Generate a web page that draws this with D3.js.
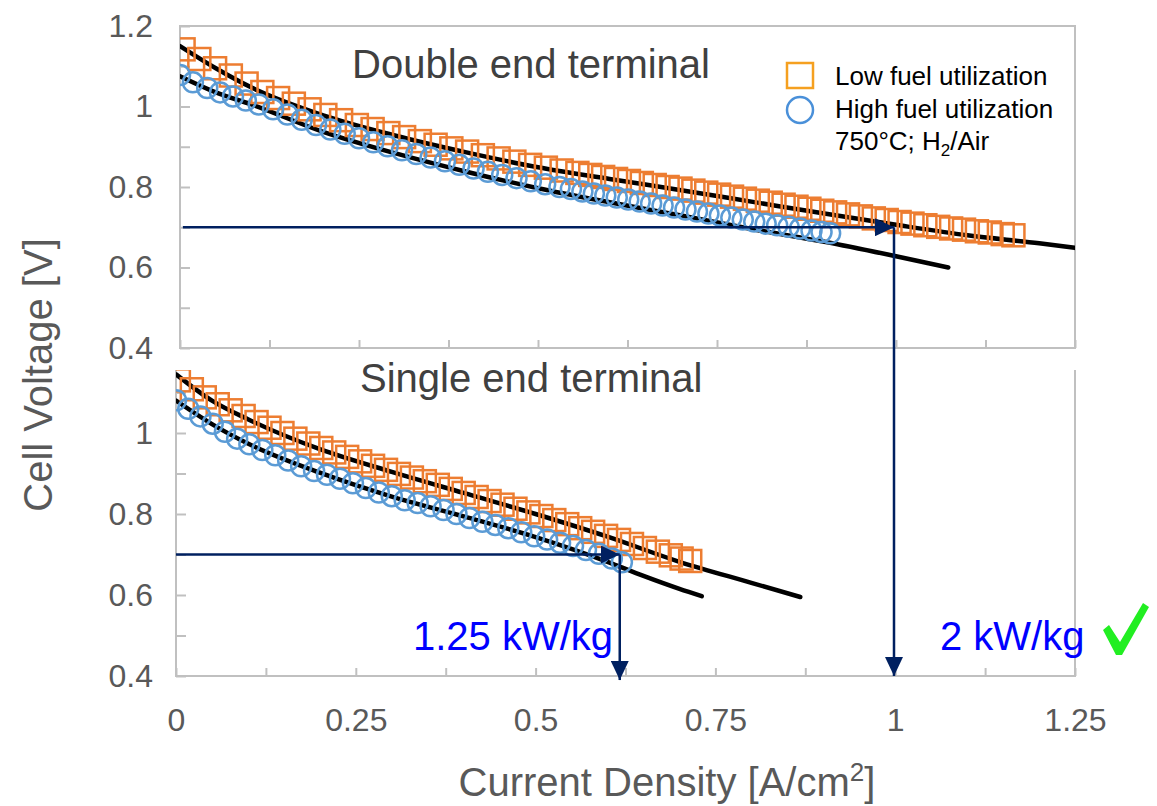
<!DOCTYPE html>
<html>
<head>
<meta charset="utf-8">
<script src="https://cdn.jsdelivr.net/npm/d3@7"></script>
<style>
  body { margin: 0; background: #fff; }
  svg { display: block; font-family: "Liberation Sans", Arial, sans-serif; }
</style>
</head>
<body>
<svg id="chart" width="1157" height="806"></svg>
<script>
// ---- data (current density A/cm2, cell voltage V) ----
const xTicks = [0, 0.25, 0.5, 0.75, 1, 1.25];
const xMinorTicks = [0, 0.125, 0.25, 0.375, 0.5, 0.625, 0.75, 0.875, 1, 1.125, 1.25];
const topYLabels = [0.4, 0.6, 0.8, 1, 1.2];
const topYMinor = [0.4, 0.5, 0.6, 0.7, 0.8, 0.9, 1.0, 1.1, 1.2];
const botYLabels = [0.4, 0.6, 0.8, 1];
const botYMinor = [0.4, 0.5, 0.6, 0.7, 0.8, 0.9, 1.0, 1.1];

// double end terminal
const topLowI = [0.005,0.027,0.049,0.071,0.093,0.115,0.137,0.159,0.181,0.203,0.225,0.247,0.269,0.291,0.313,0.335,0.357,0.379,0.401,0.423,0.445,0.467,0.489,0.511,0.533,0.555,
  0.573,0.591,0.609,0.627,0.645,0.663,0.681,0.699,0.717,0.735,0.753,0.771,0.789,0.807,0.825,0.843,0.861,0.879,0.897,0.915,0.933,0.951,0.969,0.987,1.005,1.023,1.041,1.059,1.077,1.095,1.113,1.131,1.149,1.164];
const topLowV = [1.142,1.118,1.095,1.077,1.057,1.036,1.021,1.007,0.993,0.979,0.966,0.954,0.944,0.934,0.924,0.914,0.905,0.896,0.888,0.879,0.871,0.863,0.855,0.848,0.841,0.835,
  0.83,0.825,0.82,0.815,0.81,0.805,0.8,0.796,0.791,0.786,0.781,0.776,0.771,0.766,0.761,0.756,0.751,0.746,0.741,0.737,0.732,0.727,0.722,0.718,0.713,0.709,0.705,0.701,0.697,0.694,0.69,0.687,0.683,0.68];
const topHighI = [0,0.018,0.038,0.056,0.074,0.092,0.11,0.13,0.15,0.17,0.19,0.21,0.23,0.25,0.27,0.29,0.31,0.33,0.35,0.37,0.39,0.41,0.43,0.45,0.47,0.49,0.51,0.53,
  0.546,0.562,0.578,0.594,0.61,0.626,0.642,0.658,0.674,0.69,0.706,0.722,0.738,0.754,0.77,0.786,0.802,0.818,0.834,0.85,0.866,0.882,0.896,0.908];
const topHighV = [1.078,1.06,1.046,1.035,1.025,1.015,1.005,0.993,0.98,0.967,0.954,0.943,0.932,0.921,0.911,0.901,0.891,0.882,0.873,0.864,0.855,0.846,0.838,0.83,0.822,0.814,0.807,0.8,
  0.795,0.789,0.784,0.779,0.774,0.769,0.764,0.759,0.754,0.749,0.744,0.739,0.734,0.729,0.724,0.719,0.714,0.709,0.705,0.701,0.697,0.692,0.688,0.685];
const topLowFitI = [0,0.05,0.1,0.2,0.3,0.4,0.5,0.6,0.7,0.8,0.9,1.0,1.1,1.2,1.253];
const topLowFitV = [1.15,1.095,1.047,0.978,0.928,0.886,0.849,0.82,0.792,0.763,0.734,0.706,0.68,0.66,0.648];
const topHighFitI = [0,0.05,0.1,0.2,0.3,0.4,0.5,0.6,0.7,0.8,0.9,1.0,1.073];
const topHighFitV = [1.075,1.035,1.005,0.937,0.884,0.838,0.797,0.762,0.729,0.695,0.664,0.628,0.6];

// single end terminal
const botLowI = [0.004,0.022,0.04,0.058,0.076,0.094,0.112,0.13,0.148,0.166,0.184,0.202,0.22,0.238,0.256,0.274,0.292,0.31,0.328,0.346,0.364,
  0.382,0.4,0.418,0.436,0.454,0.472,0.49,0.508,0.526,0.544,0.562,0.58,0.598,0.616,0.634,0.652,0.67,0.688,0.703,0.715];
const botLowV = [1.13,1.108,1.088,1.071,1.056,1.042,1.027,1.013,1.0,0.986,0.974,0.963,0.952,0.941,0.93,0.919,0.909,0.899,0.89,0.881,0.872,
  0.862,0.852,0.842,0.832,0.823,0.813,0.804,0.795,0.785,0.775,0.765,0.756,0.746,0.736,0.726,0.716,0.707,0.698,0.69,0.684];
const botHighI = [0,0.017,0.034,0.051,0.068,0.085,0.102,0.12,0.138,0.156,0.174,0.192,0.21,0.228,0.246,0.264,0.282,0.3,
  0.318,0.336,0.354,0.372,0.39,0.408,0.426,0.444,0.462,0.48,0.498,0.516,0.534,0.552,0.57,0.588,0.606,0.62];
const botHighV = [1.081,1.06,1.041,1.023,1.003,0.986,0.972,0.958,0.945,0.932,0.918,0.906,0.897,0.887,0.876,0.864,0.853,0.844,
  0.834,0.827,0.819,0.81,0.8,0.79,0.781,0.773,0.765,0.755,0.745,0.737,0.729,0.721,0.711,0.702,0.69,0.681];
const botLowFitI = [0,0.05,0.1,0.2,0.3,0.4,0.5,0.6,0.7,0.8,0.868];
const botLowFitV = [1.145,1.08,1.034,0.96,0.904,0.852,0.8,0.744,0.682,0.63,0.595];
const botHighFitI = [0,0.05,0.1,0.2,0.3,0.4,0.5,0.6,0.65,0.7,0.731];
const botHighFitV = [1.08,1.022,0.974,0.902,0.843,0.794,0.743,0.682,0.647,0.615,0.597];

// 0.7 V operating point -> current density
const topOpI = 1.0, botOpI = 0.617, opV = 0.7;

const svg = d3.select('#chart');
const gray = '#595959', frameColor = '#c0c0c0', navy = '#002060';
const orange = '#ed7d31', blue = '#5b9bd5';

const xTop = d3.scaleLinear().domain([0, 1.25]).range([180, 1075]);
const yTop = d3.scaleLinear().domain([0.4, 1.2]).range([348, 26]);
const xBot = d3.scaleLinear().domain([0, 1.25]).range([176, 1075]);
const yBot = d3.scaleLinear().domain([0.4, 1.0]).range([676, 433]);

const defs = svg.append('defs');
defs.append('marker').attr('id', 'arrow')
  .attr('markerUnits', 'userSpaceOnUse')
  .attr('markerWidth', 20).attr('markerHeight', 18)
  .attr('refX', 19).attr('refY', 9).attr('orient', 'auto')
  .append('path').attr('d', 'M0,0 L19,9 L0,18 Z').attr('fill', navy);

function drawPanel(p) {
  const [x0, x1] = p.x.range();
  const yb = p.y(0.4);
  const g = svg.append('g');

  defs.append('clipPath').attr('id', 'clip-' + p.name)
    .append('rect').attr('x', x0).attr('y', p.top).attr('width', x1 - x0).attr('height', yb - p.top);

  // frame
  if (p.closed) {
    g.append('rect').attr('x', x0).attr('y', p.top).attr('width', x1 - x0).attr('height', yb - p.top)
      .attr('fill', 'none').attr('stroke', frameColor).attr('stroke-width', 2);
  } else {
    g.append('path').attr('d', `M${x0},${p.top}V${yb}H${x1}V${p.top}`)
      .attr('fill', 'none').attr('stroke', frameColor).attr('stroke-width', 2);
  }

  // inward ticks
  const yt = g.append('g').attr('transform', `translate(${x0},0)`)
    .call(d3.axisRight(p.y).tickValues(p.minorY).tickSize(10).tickFormat(''));
  const xt = g.append('g').attr('transform', `translate(0,${yb})`)
    .call(d3.axisTop(p.x).tickValues(xMinorTicks).tickSize(8).tickFormat(''));
  [yt, xt].forEach(a => {
    a.select('.domain').remove();
    a.selectAll('line').attr('stroke', frameColor).attr('stroke-width', 2);
  });

  // y labels
  const yl = g.append('g').attr('transform', 'translate(153,0)')
    .call(d3.axisLeft(p.y).tickValues(p.labelY).tickSize(0).tickPadding(0).tickFormat(d => String(d)));
  yl.select('.domain').remove();
  yl.selectAll('text').attr('font-size', 32).attr('fill', gray).attr('font-family', '"Liberation Sans", Arial, sans-serif');

  const plot = g.append('g').attr('clip-path', `url(#clip-${p.name})`);
  const line = d3.line().x(d => p.x(d[0])).y(d => p.y(d[1])).curve(d3.curveMonotoneX);

  p.fits.forEach(f => {
    plot.append('path').datum(d3.zip(f[0], f[1])).attr('d', line)
      .attr('fill', 'none').attr('stroke', '#000').attr('stroke-width', 4.5).attr('stroke-linecap', 'round');
  });

  const sq = 22;
  plot.append('g').selectAll('rect').data(d3.zip(p.lowI, p.lowV)).join('rect')
    .attr('x', d => p.x(d[0]) - sq / 2).attr('y', d => p.y(d[1]) - sq / 2)
    .attr('width', sq).attr('height', sq)
    .attr('fill', 'none').attr('stroke', orange).attr('stroke-width', 2.5);

  plot.append('g').selectAll('circle').data(d3.zip(p.highI, p.highV)).join('circle')
    .attr('cx', d => p.x(d[0])).attr('cy', d => p.y(d[1])).attr('r', 10)
    .attr('fill', 'none').attr('stroke', blue).attr('stroke-width', 2.5);

  g.append('text').attr('x', p.titleX).attr('y', p.titleY).attr('font-size', 40).attr('fill', '#404040')
    .text(p.title);
}

drawPanel({
  name: 'top', x: xTop, y: yTop, top: 26, closed: true,
  minorY: topYMinor, labelY: topYLabels,
  lowI: topLowI, lowV: topLowV, highI: topHighI, highV: topHighV,
  fits: [[topLowFitI, topLowFitV], [topHighFitI, topHighFitV]],
  title: 'Double end terminal', titleX: 352, titleY: 78
});

drawPanel({
  name: 'bot', x: xBot, y: yBot, top: 370, closed: false,
  minorY: botYMinor, labelY: botYLabels,
  lowI: botLowI, lowV: botLowV, highI: botHighI, highV: botHighV,
  fits: [[botLowFitI, botLowFitV], [botHighFitI, botHighFitV]],
  title: 'Single end terminal', titleX: 360, titleY: 392
});

// x tick labels
const xl = svg.append('g').attr('transform', `translate(0,${yBot(0.4)})`)
  .call(d3.axisBottom(xBot).tickValues(xTicks).tickSize(0).tickPadding(32).tickFormat(d => String(d)));
xl.select('.domain').remove();
xl.selectAll('text').attr('font-size', 32).attr('fill', gray).attr('font-family', '"Liberation Sans", Arial, sans-serif');

// axis titles
const xTitle = svg.append('text').attr('x', 667).attr('y', 796).attr('text-anchor', 'middle')
  .attr('font-size', 40).attr('fill', gray);
xTitle.append('tspan').text('Current Density [A/cm');
xTitle.append('tspan').attr('font-size', 26).attr('dy', -15).text('2');
xTitle.append('tspan').attr('dy', 15).text(']');

svg.append('text').attr('transform', 'translate(52,375) rotate(-90)').attr('text-anchor', 'middle')
  .attr('font-size', 40).attr('fill', gray).text('Cell Voltage [V]');

// operating point arrows
const arrows = svg.append('g').attr('stroke', navy).attr('stroke-width', 2.5).attr('fill', 'none');
arrows.append('line').attr('x1', xTop(0.004)).attr('y1', yTop(opV)).attr('x2', xTop(topOpI) - 2).attr('y2', yTop(opV))
  .attr('marker-end', 'url(#arrow)');
arrows.append('line').attr('x1', xTop(topOpI) - 2).attr('y1', yTop(opV)).attr('x2', xTop(topOpI) - 2).attr('y2', yBot(0.4))
  .attr('marker-end', 'url(#arrow)');
arrows.append('line').attr('x1', xBot(0)).attr('y1', yBot(opV)).attr('x2', xBot(botOpI)).attr('y2', yBot(opV))
  .attr('marker-end', 'url(#arrow)');
arrows.append('line').attr('x1', xBot(botOpI)).attr('y1', yBot(opV)).attr('x2', xBot(botOpI)).attr('y2', yBot(0.39))
  .attr('marker-end', 'url(#arrow)');

svg.append('text').attr('x', 413).attr('y', 650).attr('font-size', 40).attr('fill', '#0000ff').text('1.25 kW/kg');
svg.append('text').attr('x', 940).attr('y', 650).attr('font-size', 40).attr('fill', '#0000ff').text('2 kW/kg');

// green check mark
svg.append('path')
  .attr('d', 'M1103,630 L1109,625 L1120,642 L1143,603 L1149,607 L1122,655 L1116,655 Z')
  .attr('fill', '#22ee22');

// legend
const leg = svg.append('g');
leg.append('rect').attr('x', 787).attr('y', 63).attr('width', 26).attr('height', 25)
  .attr('fill', 'none').attr('stroke', '#f5a020').attr('stroke-width', 2.5);
leg.append('circle').attr('cx', 800).attr('cy', 110).attr('r', 13)
  .attr('fill', 'none').attr('stroke', '#4a90d9').attr('stroke-width', 2.5);
leg.append('text').attr('x', 835).attr('y', 85).attr('font-size', 26).attr('fill', '#000').text('Low fuel utilization');
leg.append('text').attr('x', 835).attr('y', 118).attr('font-size', 26).attr('fill', '#000').text('High fuel utilization');
const cond = leg.append('text').attr('x', 835).attr('y', 150).attr('font-size', 26).attr('fill', '#000');
cond.append('tspan').text('750°C; H');
cond.append('tspan').attr('font-size', 17).attr('dy', 6).text('2');
cond.append('tspan').attr('dy', -6).text('/Air');
</script>
</body>
</html>
